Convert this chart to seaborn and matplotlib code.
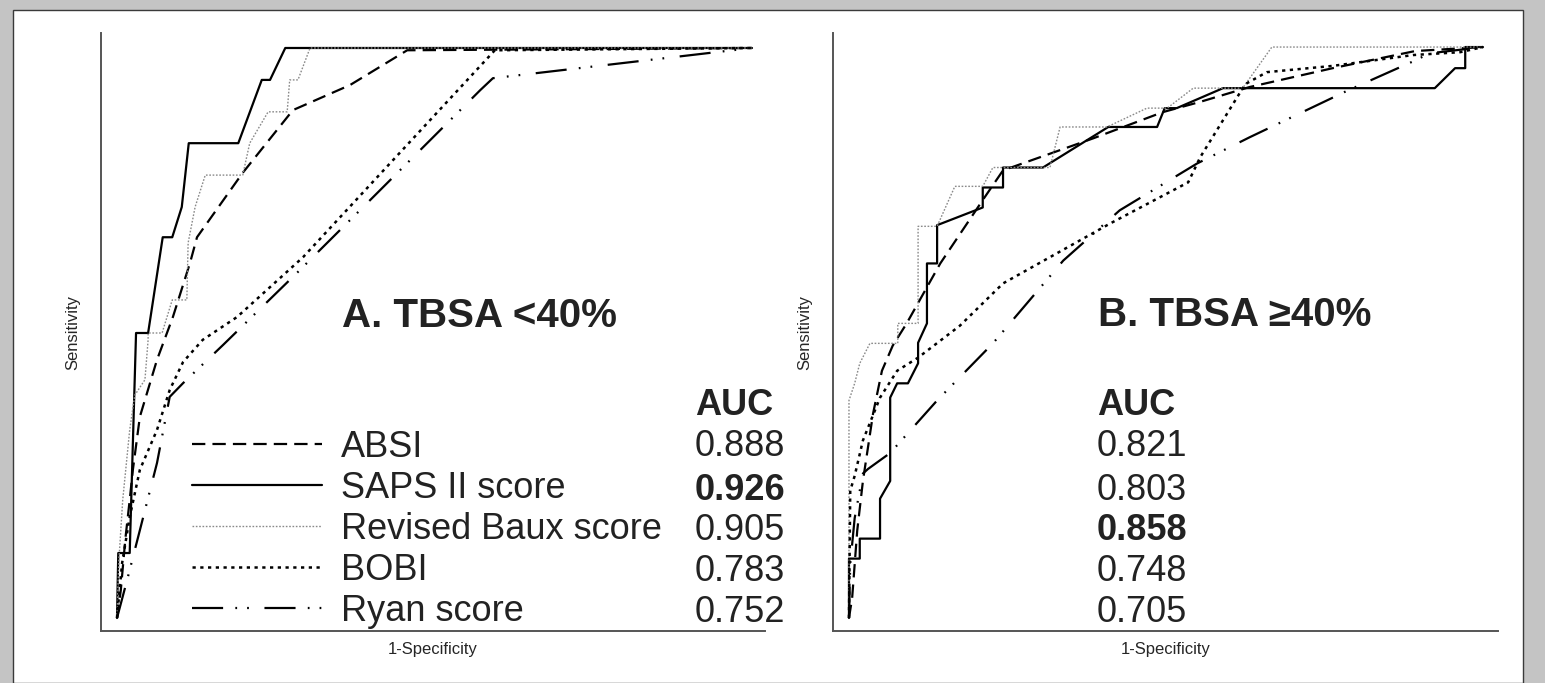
import matplotlib
matplotlib.use("Agg")
import matplotlib.pyplot as plt
import seaborn as sns
import pandas as pd
from matplotlib.patches import Rectangle

# ROC curve points (1-specificity, sensitivity)
models = ['ABSI', 'SAPS II score', 'Revised Baux score', 'BOBI', 'Ryan score']

# panel A: TBSA < 40%
absi_a_x = [0, 0.006, 0.013, 0.020, 0.025, 0.036, 0.063, 0.088, 0.115, 0.126, 0.198, 0.277, 0.367, 0.457, 1]
absi_a_y = [0, 0.049, 0.137, 0.207, 0.260, 0.353, 0.453, 0.528, 0.623, 0.668, 0.781, 0.891, 0.935, 0.996, 1]
saps_a_x = [0, 0.002, 0.020, 0.030, 0.049, 0.072, 0.087, 0.102, 0.113, 0.191, 0.228, 0.241, 0.265, 1]
saps_a_y = [0, 0.114, 0.114, 0.500, 0.500, 0.668, 0.668, 0.721, 0.833, 0.833, 0.944, 0.944, 1.0, 1]
baux_a_x = [0, 0.003, 0.009, 0.020, 0.028, 0.044, 0.049, 0.049, 0.071, 0.087, 0.110, 0.112, 0.123, 0.139,
            0.198, 0.209, 0.238, 0.268, 0.272, 0.285, 0.304, 1]
baux_a_y = [0, 0.102, 0.207, 0.330, 0.391, 0.418, 0.488, 0.500, 0.500, 0.558, 0.558, 0.658, 0.721, 0.777,
            0.777, 0.833, 0.888, 0.888, 0.944, 0.944, 1.0, 1]
bobi_a_x = [0, 0.008, 0.020, 0.036, 0.063, 0.083, 0.104, 0.135, 0.189, 0.293, 0.595, 1]
bobi_a_y = [0, 0.096, 0.177, 0.260, 0.330, 0.400, 0.449, 0.488, 0.528, 0.633, 0.996, 1]
ryan_a_x = [0, 0.016, 0.036, 0.063, 0.083, 0.104, 0.167, 0.283, 0.394, 0.572, 0.592, 1]
ryan_a_y = [0, 0.067, 0.154, 0.272, 0.388, 0.412, 0.479, 0.605, 0.728, 0.926, 0.947, 1]
auc_a = ['0.888', '0.926', '0.905', '0.783', '0.752']

# panel B: TBSA >= 40%
absi_b_x = [0, 0.005, 0.013, 0.022, 0.038, 0.052, 0.069, 0.091, 0.144, 0.211, 0.243, 0.385, 0.495, 0.554,
            0.632, 0.763, 0.893, 1]
absi_b_y = [0, 0.035, 0.153, 0.240, 0.358, 0.433, 0.477, 0.516, 0.621, 0.732, 0.784, 0.840, 0.886, 0.904,
            0.930, 0.963, 0.993, 1]
saps_b_x = [0, 0, 0.017, 0.017, 0.049, 0.049, 0.065, 0.065, 0.076, 0.093, 0.109, 0.109, 0.123, 0.123, 0.139,
            0.139, 0.211, 0.211, 0.243, 0.243, 0.306, 0.409, 0.486, 0.498, 0.517, 0.590, 0.924, 0.956,
            0.972, 0.972, 1]
saps_b_y = [0, 0.104, 0.104, 0.139, 0.139, 0.209, 0.240, 0.386, 0.411, 0.411, 0.446, 0.482, 0.516, 0.621,
            0.621, 0.688, 0.719, 0.754, 0.754, 0.789, 0.789, 0.860, 0.860, 0.893, 0.893, 0.928, 0.928,
            0.963, 0.963, 1.0, 1]
baux_b_x = [0, 0, 0.009, 0.017, 0.033, 0.077, 0.077, 0.109, 0.109, 0.139, 0.167, 0.211, 0.227, 0.317, 0.333,
            0.407, 0.470, 0.502, 0.543, 0.621, 0.667, 1]
baux_b_y = [0, 0.381, 0.411, 0.446, 0.481, 0.481, 0.516, 0.516, 0.686, 0.686, 0.756, 0.756, 0.789, 0.789,
            0.860, 0.860, 0.893, 0.893, 0.928, 0.928, 1.0, 1]
bobi_b_x = [0, 0.002, 0.009, 0.022, 0.049, 0.076, 0.109, 0.175, 0.243, 0.412, 0.535, 0.554, 0.625, 0.659,
            0.763, 0.890, 0.964, 1]
bobi_b_y = [0, 0.223, 0.249, 0.311, 0.386, 0.433, 0.456, 0.512, 0.586, 0.691, 0.763, 0.807, 0.935, 0.956,
            0.967, 0.986, 0.991, 1]
ryan_b_x = [0, 0.002, 0.009, 0.022, 0.030, 0.065, 0.139, 0.227, 0.338, 0.427, 0.549, 0.632, 0.785, 0.890,
            0.916, 1]
ryan_b_y = [0, 0.095, 0.175, 0.253, 0.261, 0.289, 0.381, 0.481, 0.626, 0.714, 0.796, 0.842, 0.923, 0.975,
            0.989, 1]
auc_b = ['0.821', '0.803', '0.858', '0.748', '0.705']

bold_a = '0.926'
bold_b = '0.858'

curves_a = [(absi_a_x, absi_a_y), (saps_a_x, saps_a_y), (baux_a_x, baux_a_y), (bobi_a_x, bobi_a_y), (ryan_a_x, ryan_a_y)]
curves_b = [(absi_b_x, absi_b_y), (saps_b_x, saps_b_y), (baux_b_x, baux_b_y), (bobi_b_x, bobi_b_y), (ryan_b_x, ryan_b_y)]

# line look for each model
line_styles = {
    'ABSI': dict(color='black', lw=1.6, ls=(0, (6.0, 3.2))),
    'SAPS II score': dict(color='black', lw=1.6, ls='-'),
    'Revised Baux score': dict(color='#8a8a8a', lw=1.0, ls=(0, (1.2, 1.2))),
    'BOBI': dict(color='black', lw=1.8, ls=(0, (1.3, 1.8))),
    'Ryan score': dict(color='black', lw=1.6, ls=(0, (14, 5.5, 0.8, 4.5, 0.8, 7))),
}

sns.set_style("white")
plt.rcParams['font.family'] = ['Liberation Sans', 'DejaVu Sans']

fig = plt.figure(figsize=(15.45, 6.83), dpi=100)
fig.patch.set_facecolor('#c4c4c4')
fig.patches.append(Rectangle((13 / 1545, 0), 1510 / 1545, 1 - 10 / 683, transform=fig.transFigure,
                             facecolor='white', edgecolor='#3a3a3a', lw=1.0, zorder=-10))

ax_a = fig.add_axes([101 / 1545, 1 - 631 / 683, 664 / 1545, 598 / 683])
ax_b = fig.add_axes([833 / 1545, 1 - 631 / 683, 665 / 1545, 598 / 683])

panels = [
    (ax_a, curves_a, auc_a, bold_a, 'A. TBSA <40%', (-0.0252, 1.0205), (-0.0228, 1.0263), 0.354, 0.910),
    (ax_b, curves_b, auc_b, bold_b, 'B. TBSA \u226540%', (-0.0252, 1.0237), (-0.0228, 1.0246), 0.393, 0.391),
]

for ax, curves, aucs, bold_val, title, xlim, ylim, title_x, auc_x in panels:
    ax.set_facecolor('none')
    for name, (xs, ys) in zip(models, curves):
        st = line_styles[name]
        df = pd.DataFrame({'fpr': xs, 'tpr': ys})
        sns.lineplot(data=df, x='fpr', y='tpr', ax=ax, estimator=None, sort=False,
                     color=st['color'], linewidth=st['lw'], linestyle=st['ls'], label=name)
    ax.set_xlim(*xlim)
    ax.set_ylim(*ylim)
    ax.set_xticks([])
    ax.set_yticks([])
    for side in ['top', 'right']:
        ax.spines[side].set_visible(False)
    for side in ['left', 'bottom']:
        ax.spines[side].set_color('#555555')
        ax.spines[side].set_linewidth(1.4)
    ax.set_xlabel('1-Specificity', fontsize=12, labelpad=8)
    ax.set_ylabel('Sensitivity', fontsize=12, labelpad=15)
    ax.get_legend().remove()

    ax.text(title_x, 0.530, title, fontsize=29, fontweight='bold', color='#222222',
            ha='left', va='center')
    ax.text(auc_x, 0.372, 'AUC', fontsize=26, fontweight='bold', color='#222222',
            ha='left', va='center')
    row_y = [0.300, 0.224, 0.154, 0.082, 0.009]
    for val, yy in zip(aucs, row_y):
        ax.text(auc_x, yy, val, fontsize=26, color='#222222', ha='left', va='center',
                fontweight='bold' if val == bold_val else 'normal')

# legend inside panel A
handles, labels = ax_a.get_lines(), models
leg = ax_a.legend(handles, labels, loc='center left', bbox_to_anchor=(0.137, 0.170), frameon=False,
                  fontsize=26, handlelength=3.6, handletextpad=0.52, labelspacing=0.17,
                  borderpad=0, borderaxespad=0)
for t in leg.get_texts():
    t.set_color('#222222')

fig.savefig('out.png', dpi=100, facecolor=fig.get_facecolor())
